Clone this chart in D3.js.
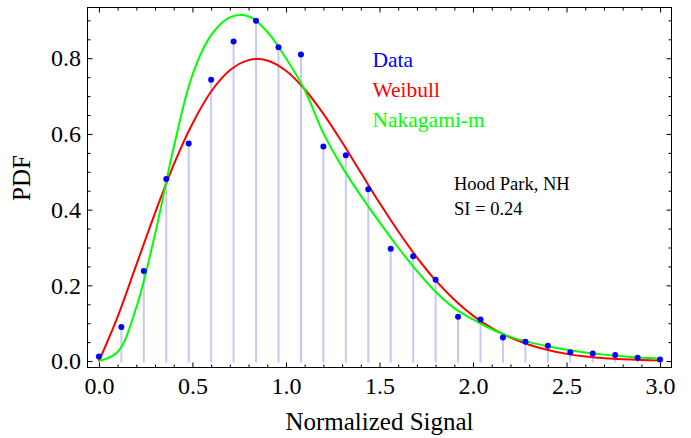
<!DOCTYPE html>
<html lang="en">
<head>
    <meta charset="UTF-8">
    <title>PDF - Hood Park, NH</title>
    <script src="https://d3js.org/d3.v7.min.js"></script>
    <style>
        body { margin: 0; background: #fff; }
        text { font-family: "Liberation Serif", "DejaVu Serif", serif; }
    </style>
</head>
<body>

<div id="chart"></div>

<script>
    // measured histogram (stems + dots)
    var dataX = [0, 0.12, 0.24, 0.36, 0.48, 0.6, 0.72, 0.84, 0.96, 1.08, 1.2, 1.32, 1.44,
                 1.56, 1.68, 1.8, 1.92, 2.04, 2.16, 2.28, 2.4, 2.52, 2.64, 2.76, 2.88, 3.0];
    var dataY = [0.012, 0.09, 0.238, 0.481, 0.575, 0.743, 0.844, 0.899, 0.829, 0.81, 0.567, 0.544, 0.454,
                 0.2965, 0.277, 0.215, 0.117, 0.11, 0.062, 0.051, 0.0405, 0.023, 0.02, 0.016, 0.009, 0.004];

    // fitted curves, every 0.1
    var curveX = [0, 0.1, 0.2, 0.3, 0.4, 0.5, 0.6, 0.7, 0.8, 0.9, 1.0, 1.1, 1.2, 1.3, 1.4, 1.5,
                  1.6, 1.7, 1.8, 1.9, 2.0, 2.1, 2.2, 2.3, 2.4, 2.5, 2.6, 2.7, 2.8, 2.9, 3.0];
    var weibull = [0, 0.117, 0.254, 0.391, 0.519, 0.627, 0.712, 0.768, 0.795, 0.794, 0.767, 0.718,
                   0.653, 0.578, 0.498, 0.418, 0.343, 0.274, 0.213, 0.162, 0.12, 0.087, 0.062,
                   0.043, 0.029, 0.019, 0.012, 0.0077, 0.0047, 0.0028, 0.0017];
    var nakagami = [0, 0.024, 0.142, 0.335, 0.565, 0.756, 0.861, 0.908, 0.911, 0.87, 0.8, 0.716,
                    0.602, 0.513, 0.437, 0.367, 0.3, 0.238, 0.183, 0.14, 0.11, 0.084, 0.064,
                    0.05, 0.039, 0.03, 0.0225, 0.017, 0.0125, 0.009, 0.0062];

    var yTicks = [0, 0.2, 0.4, 0.6, 0.8];
    var xTicks = [0, 0.5, 1.0, 1.5, 2.0, 2.5, 3.0];
    var legendNames = ["Data", "Weibull", "Nakagami-m"];
    var legendColors = ["#0000ff", "#ff0000", "#00ff00"];
    var note = ["Hood Park, NH", "SI = 0.24"];

    var W = 691, H = 438;
    var box = { left: 87.5, right: 671.5, top: 7.5, bottom: 367.5 };

    var svg = d3.select("#chart").append("svg")
        .attr("width", W)
        .attr("height", H);

    var x = d3.scaleLinear().domain([-0.061, 3.061]).range([box.left, box.right]);
    var y = d3.scaleLinear().domain([-0.017, 0.934]).range([box.bottom, box.top]);

    var minorX = d3.range(-0.0, 3.01, 0.1).filter(function (v) { return Math.abs(v * 2 - Math.round(v * 2)) > 1e-6; });
    var minorY = d3.range(0, 0.93, 0.05).filter(function (v) { return Math.abs(v * 5 - Math.round(v * 5)) > 1e-6; });

    function styleAxis(g) {
        g.select(".domain").remove();
        g.selectAll("line").attr("stroke", "#000").attr("stroke-width", 1);
        g.selectAll("text").attr("font-family", "Liberation Serif, serif").attr("font-size", 24).attr("fill", "#000");
    }

    // stems
    svg.append("g").selectAll("line")
        .data(dataX)
        .enter().append("line")
        .attr("x1", function (d) { return x(d); })
        .attr("x2", function (d) { return x(d); })
        .attr("y1", function (d, i) { return y(dataY[i]); })
        .attr("y2", y(0) + 1.5)
        .attr("stroke", "#c8c8f8")
        .attr("stroke-width", 2);

    var line = d3.line()
        .x(function (d, i) { return x(curveX[i]); })
        .y(function (d) { return y(d); })
        .curve(d3.curveCatmullRom.alpha(0.5));

    svg.append("path").datum(weibull)
        .attr("d", line).attr("fill", "none")
        .attr("stroke", "#ff0000").attr("stroke-width", 2);

    svg.append("path").datum(nakagami)
        .attr("d", line).attr("fill", "none")
        .attr("stroke", "#00ff00").attr("stroke-width", 2);

    // dots
    svg.append("g").selectAll("circle")
        .data(dataX)
        .enter().append("circle")
        .attr("cx", function (d) { return x(d); })
        .attr("cy", function (d, i) { return y(dataY[i]); })
        .attr("r", 3)
        .attr("fill", "#0000ff");

    // axes: ticks pointing inward on all four sides
    svg.append("g").attr("transform", "translate(0," + box.bottom + ")")
        .call(d3.axisBottom(x).tickValues(xTicks).tickSize(-5).tickPadding(9.5).tickFormat(d3.format(".1f")))
        .call(styleAxis);
    svg.append("g").attr("transform", "translate(0," + box.bottom + ")")
        .call(d3.axisBottom(x).tickValues(minorX).tickSize(-3).tickFormat(""))
        .call(styleAxis);
    svg.append("g").attr("transform", "translate(0," + box.top + ")")
        .call(d3.axisTop(x).tickValues(xTicks).tickSize(-5).tickFormat(""))
        .call(styleAxis);
    svg.append("g").attr("transform", "translate(0," + box.top + ")")
        .call(d3.axisTop(x).tickValues(minorX).tickSize(-3).tickFormat(""))
        .call(styleAxis);

    svg.append("g").attr("transform", "translate(" + box.left + ",0)")
        .call(d3.axisLeft(y).tickValues(yTicks).tickSize(-5).tickPadding(6.5).tickFormat(d3.format(".1f")))
        .call(styleAxis);
    svg.append("g").attr("transform", "translate(" + box.left + ",0)")
        .call(d3.axisLeft(y).tickValues(minorY).tickSize(-3).tickFormat(""))
        .call(styleAxis);
    svg.append("g").attr("transform", "translate(" + box.right + ",0)")
        .call(d3.axisRight(y).tickValues(yTicks).tickSize(-5).tickFormat(""))
        .call(styleAxis);
    svg.append("g").attr("transform", "translate(" + box.right + ",0)")
        .call(d3.axisRight(y).tickValues(minorY).tickSize(-3).tickFormat(""))
        .call(styleAxis);

    // frame
    svg.append("rect")
        .attr("x", box.left).attr("y", box.top)
        .attr("width", box.right - box.left).attr("height", box.bottom - box.top)
        .attr("fill", "none").attr("stroke", "#000").attr("stroke-width", 1);

    // axis titles
    svg.append("text")
        .attr("x", (box.left + box.right) / 2).attr("y", 430)
        .attr("text-anchor", "middle").attr("font-size", 25)
        .text("Normalized Signal");

    svg.append("text")
        .attr("transform", "translate(29.5,178) rotate(-90)")
        .attr("text-anchor", "middle").attr("font-size", 25)
        .text("PDF");

    // legend
    svg.append("g").selectAll("text")
        .data(legendNames)
        .enter().append("text")
        .attr("x", 372.5)
        .attr("y", function (d, i) { return 67 + i * 30; })
        .attr("font-size", 21.5)
        .attr("fill", function (d, i) { return legendColors[i]; })
        .text(function (d) { return d; });

    // site note
    svg.append("g").selectAll("text")
        .data(note)
        .enter().append("text")
        .attr("x", 454)
        .attr("y", function (d, i) { return 189.5 + i * 25; })
        .attr("font-size", 18.5)
        .attr("fill", "#000")
        .text(function (d) { return d; });
</script>

</body>
</html>
